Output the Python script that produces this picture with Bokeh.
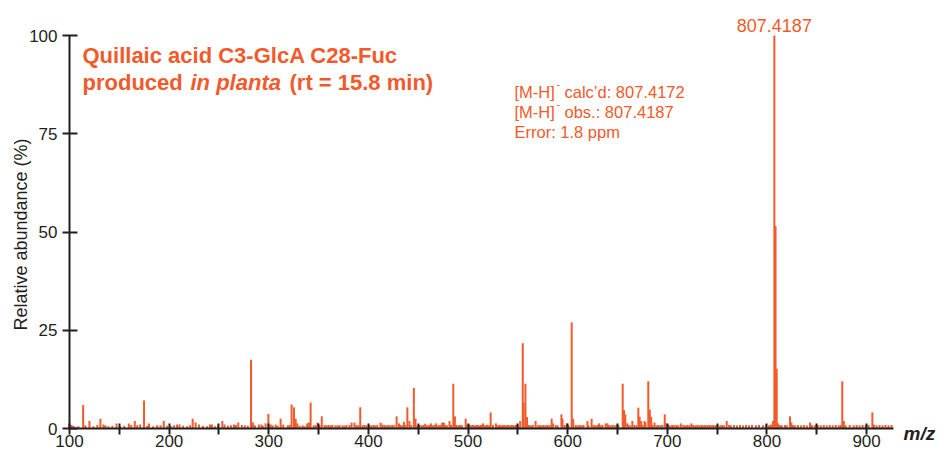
import math
from bokeh.plotting import figure
from bokeh.models import Range1d, FixedTicker, Label, ColumnDataSource
from bokeh.embed import file_html
from bokeh.resources import INLINE

# ---------------- data ----------------
x_ticks = [100, 200, 300, 400, 500, 600, 700, 800, 900]
x_minor_ticks = [150, 250, 350, 450, 550, 650, 750, 850]
y_ticks = [0, 25, 50, 75, 100]
x_axis_span = [100, 927]
y_axis_span = [0, 100]

# prominent peaks (m/z, relative abundance %)
peak_mz = [113.7, 120.0, 131.0, 134.0, 147.2, 159.5, 165.5, 171.0, 174.8, 179.8,
           191.4, 194.6, 208.0, 210.4, 223.6, 226.6, 230.0, 241.0, 243.0, 253.4,
           255.6, 265.0, 269.4, 273.0, 282.2, 284.0, 290.0, 292.6, 296.8, 299.6,
           302.0, 307.0, 311.9, 314.5, 322.9, 325.3, 327.0, 328.7, 338.5, 340.4,
           342.0, 349.0, 353.2, 383.1, 386.0, 391.8, 412.2, 414.0, 428.3, 430.7,
           435.6, 439.1, 441.1, 445.6, 447.3, 462.7, 475.8, 481.4, 485.2, 486.8,
           497.6, 499.0, 522.7, 552.3, 554.9, 555.8, 557.6, 559.2, 567.8, 583.9,
           585.3, 593.7, 594.8, 599.1, 604.0, 605.5, 619.8, 624.0, 631.5, 638.1,
           639.8, 655.2, 656.5, 657.8, 659.8, 664.9, 670.9, 672.2, 673.8, 677.1,
           678.2, 680.9, 682.4, 683.8, 687.1, 697.4, 699.1, 713.5, 724.1, 759.6,
           806.0, 807.4187, 808.6, 809.8, 811.0, 823.1, 824.4, 843.2, 875.6, 877.2,
           905.8, 907.4]
peak_int = [6.0, 1.9, 2.5, 1.0, 1.3, 1.3, 1.9, 1.0, 7.1, 1.3,
            0.8, 1.9, 1.0, 1.0, 2.5, 1.5, 1.0, 1.0, 1.0, 1.9,
            1.0, 1.0, 1.5, 0.9, 17.5, 1.5, 1.0, 1.0, 1.3, 3.7,
            1.0, 1.0, 2.5, 1.0, 6.1, 5.4, 2.5, 1.3, 1.3, 1.5,
            6.6, 1.5, 3.1, 1.5, 1.5, 5.4, 1.5, 1.0, 3.1, 1.3,
            1.7, 5.4, 1.9, 10.3, 2.5, 1.3, 1.5, 1.9, 11.4, 3.1,
            2.5, 1.0, 4.1, 1.9, 21.7, 6.5, 11.4, 2.9, 1.9, 2.5,
            1.3, 3.6, 2.5, 1.3, 27.0, 2.5, 1.9, 2.5, 1.3, 1.3,
            1.3, 11.4, 4.7, 3.6, 1.3, 1.9, 5.3, 3.0, 1.9, 1.9,
            1.5, 12.0, 4.8, 3.0, 1.5, 3.6, 1.3, 1.3, 1.3, 1.9,
            1.9, 100.0, 51.5, 15.2, 1.3, 3.1, 1.5, 1.5, 12.0, 1.9,
            4.1, 1.0]

# baseline noise peaks
noise_mz = [102, 104, 109, 116, 124, 128, 136, 139, 143, 151, 155, 162, 168, 178, 184, 188, 198,
            202, 205, 214, 218, 221, 234, 238, 246, 249, 259, 262, 267, 276, 279, 286, 294,
            304, 309, 319, 321, 331, 334, 336, 345, 347, 351, 356, 358, 360, 362, 364, 367, 369,
            371, 374, 376, 378, 381, 388, 390, 394, 396, 398,
            401, 403, 405, 407, 409, 416, 418, 420, 422, 424, 426, 432, 434, 437, 443, 449, 451,
            453, 455, 457, 459, 461, 464, 466, 468, 470, 472, 474, 477, 479, 483, 488, 490, 492,
            494, 501, 503,
            505, 507, 509, 511, 513, 515, 517, 519, 521, 525, 528, 530, 532, 534, 536, 538, 540,
            542, 544, 546, 548, 550, 561, 563, 565, 570, 572, 574, 576, 578, 580, 582, 588, 590,
            597, 601,
            608, 610, 612, 614, 616, 621, 626, 628, 630, 633, 635, 641, 643, 645, 647, 649, 651,
            661, 663, 667, 669, 675, 685, 689, 691, 693, 695,
            701, 703, 705, 707, 709, 711, 716, 718, 720, 722, 726, 728, 730, 732, 734, 736, 738,
            740, 742, 744, 746, 748, 750, 753, 755, 757, 762, 764, 767, 770, 773, 776, 779, 782,
            785, 789, 792, 796, 799,
            802, 804, 813, 815, 818, 820, 826, 828, 831, 834, 837, 840, 845, 848, 851, 854, 857,
            860, 863, 866, 869, 872, 874, 879, 883, 887, 890, 893, 896, 899, 902, 910, 913, 916,
            919, 922, 925]
noise_int = [0.9, 0.7, 0.6, 0.8, 0.6, 0.9, 0.8, 0.6, 0.7, 0.6, 0.7, 0.9, 0.8, 0.7, 0.6, 0.8, 0.7,
             0.6, 0.8, 0.7, 0.6, 0.8, 0.7, 0.6, 0.6, 0.8, 0.7, 0.8, 0.9, 0.8, 0.7, 0.8, 0.7,
             0.8, 0.7, 0.8, 0.9, 0.7, 0.8, 0.6, 0.8, 0.9, 0.8, 0.9, 0.8, 0.9, 0.8, 0.9, 0.8, 0.8,
             0.9, 0.8, 0.7, 0.9, 0.9, 0.9, 0.8, 0.8, 0.9, 0.8,
             0.9, 0.8, 0.9, 0.8, 0.9, 0.9, 0.8, 0.9, 0.8, 0.9, 0.8, 0.9, 0.8, 0.9, 0.9, 0.8, 0.9,
             0.8, 0.9, 1.2, 0.8, 0.9, 0.8, 0.9, 1.3, 0.8, 0.9, 1.5, 0.9, 0.8, 0.9, 0.9, 0.8, 0.9,
             0.8, 0.9, 0.8,
             0.9, 0.8, 0.9, 0.8, 0.9, 1.3, 0.8, 0.9, 0.8, 0.9, 1.3, 0.8, 0.9, 0.8, 0.9, 0.8, 0.9,
             0.8, 0.9, 0.8, 0.9, 0.8, 0.9, 0.8, 0.9, 0.8, 0.9, 0.8, 0.9, 0.8, 0.9, 0.8, 0.9, 0.8,
             0.9, 0.8,
             0.9, 0.8, 0.9, 0.8, 0.9, 0.8, 0.9, 0.8, 0.9, 0.8, 0.9, 0.9, 0.8, 0.9, 0.8, 0.9, 0.8,
             0.9, 0.8, 0.9, 0.8, 0.9, 0.9, 0.8, 0.9, 0.8, 0.9,
             0.9, 0.8, 0.9, 0.8, 0.9, 0.8, 0.9, 0.8, 0.9, 0.8, 0.9, 0.8, 0.9, 0.8, 0.9, 0.8, 0.9,
             0.8, 0.9, 0.8, 0.9, 0.8, 0.9, 0.8, 0.9, 0.8, 0.9, 0.8, 0.9, 0.8, 0.9, 0.8, 0.9, 0.8,
             0.9, 0.8, 0.9, 0.8, 0.9,
             0.8, 1.0, 0.9, 0.8, 0.9, 0.8, 0.9, 0.8, 0.9, 0.8, 0.9, 0.8, 0.9, 0.8, 0.9, 0.8, 0.9,
             0.8, 0.9, 0.8, 0.9, 0.8, 0.9, 0.8, 0.9, 0.8, 0.9, 0.8, 0.9, 0.8, 0.9, 0.8, 0.9, 0.8,
             0.9, 0.8, 0.9]

title_line1 = "Quillaic acid C3-GlcA C28-Fuc"
title_line2 = ["produced", "in planta", "(rt = 15.8 min)"]
calc_mz = 807.4172
obs_mz = 807.4187
error_ppm = 1.8
x_label = "m/z"
y_label = "Relative abundance (%)"

# ---------------- layout / style ----------------
W, H = 939, 453
# pixel positions of the axes box inside the canvas
FL, FR, FT, FB = 69, 893, 35, 428
ORANGE = "#F15A2B"
DARK = "#231F20"
FONT = "Liberation Sans"

xs = (x_axis_span[1] - x_axis_span[0]) / (FR - FL)   # data per px
ys = (y_axis_span[1] - y_axis_span[0]) / (FB - FT)
XMIN = x_axis_span[0] - FL * xs
XMAX = x_axis_span[0] + (W - FL) * xs
YMIN = y_axis_span[0] - (H - FB) * ys
YMAX = y_axis_span[0] + FB * ys


def px2x(px):
    return XMIN + px * xs


def py2y(py):
    return YMAX - py * ys


p = figure(width=W, height=H, x_range=Range1d(XMIN, XMAX), y_range=Range1d(YMIN, YMAX),
           output_backend="svg", toolbar_location=None,
           min_border_left=0, min_border_right=0, min_border_top=0, min_border_bottom=0)
p.outline_line_color = None
p.grid.visible = False
p.background_fill_color = "white"
p.border_fill_color = "white"

all_mz = noise_mz + peak_mz
all_int = noise_int + peak_int
src = ColumnDataSource(dict(x=all_mz, y0=[0] * len(all_mz), y1=all_int))
p.segment(x0="x", y0="y0", x1="x", y1="y1", source=src, line_color=ORANGE, line_width=2)

# axis lines
p.segment(x0=[x_axis_span[0], x_axis_span[0]], y0=[y_axis_span[0], y_axis_span[0]],
          x1=[x_axis_span[1], x_axis_span[0]], y1=[y_axis_span[0], y_axis_span[1]],
          line_color=DARK, line_width=2)

for ax in (p.xaxis, p.yaxis):
    ax.axis_line_color = None
    ax.major_tick_line_color = DARK
    ax.major_tick_line_width = 2
    ax.minor_tick_line_color = DARK
    ax.minor_tick_line_width = 2
    ax.major_label_text_font = FONT
    ax.major_label_text_font_size = "17px"
    ax.major_label_text_color = DARK

p.xaxis.fixed_location = y_axis_span[0]
p.xaxis.ticker = FixedTicker(ticks=x_ticks, minor_ticks=x_minor_ticks)
p.xaxis.major_tick_in = 5
p.xaxis.major_tick_out = 6
p.xaxis.minor_tick_in = 5
p.xaxis.minor_tick_out = 6
p.xaxis.major_label_standoff = 0

p.yaxis.fixed_location = x_axis_span[0]
p.yaxis.ticker = FixedTicker(ticks=y_ticks, minor_ticks=[])
p.yaxis.major_tick_in = 8
p.yaxis.major_tick_out = 7
p.yaxis.minor_tick_line_color = None
p.yaxis.major_label_standoff = 5


def add_label(text, px, py, size, color=ORANGE, style="normal", align="left", angle=0.0):
    p.add_layout(Label(x=px2x(px), y=py2y(py), text=text, text_font=FONT,
                       text_font_size=size, text_color=color, text_font_style=style,
                       text_align=align, text_baseline="alphabetic", angle=angle))


# title
add_label(title_line1, 82, 55, "22px", style="bold")
add_label(title_line2[0], 82, 82, "22px", style="bold")
add_label(title_line2[1], 190, 82, "22px", style="bold italic")
add_label(title_line2[2], 289, 82, "22px", style="bold")

# annotation block
add_label("[M-H]", 514, 91, "16.5px")
add_label("-", 556, 83, "10px")
add_label(f"calc\u2019d: {calc_mz:.4f}", 564, 91, "16.5px")
add_label("[M-H]", 514, 111, "16.5px")
add_label("-", 556, 103, "10px")
add_label(f"obs.: {obs_mz:.4f}", 564, 111, "16.5px")
add_label(f"Error: {error_ppm:.1f} ppm", 514, 131, "16.5px")

# top peak label
p.add_layout(Label(x=obs_mz, y=py2y(25), text=f"{obs_mz:.4f}", text_font=FONT,
                   text_font_size="18px", text_color=ORANGE, text_align="center",
                   text_baseline="alphabetic"))

# axis labels
add_label(x_label, 903, 433, "19px", color=DARK, style="bold italic")
add_label(y_label, 20, 234, "18px", color=DARK, align="center", angle=math.pi / 2)

open("out.html", "w").write(file_html(p, INLINE))
